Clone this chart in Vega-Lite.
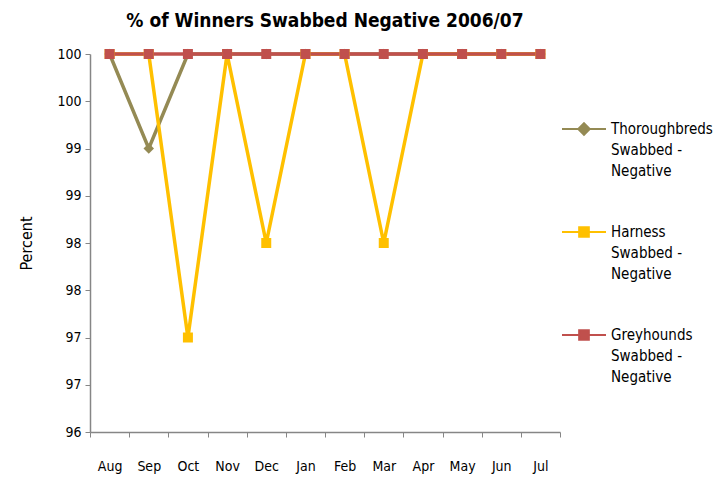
{
  "$schema": "https://vega.github.io/schema/vega-lite/v6.json",
  "autosize": "none",
  "width": 470,
  "height": 378,
  "padding": {"left": 90, "top": 54, "right": 166, "bottom": 45},
  "config": {
    "view": {"stroke": null},
    "font": "DejaVu Sans Condensed",
    "axis": {"domainColor": "#868686", "tickColor": "#868686", "domainWidth": 1.5, "labelColor": "#000", "titleColor": "#000", "labelFont": "DejaVu Sans Condensed", "titleFont": "DejaVu Sans Condensed", "grid": false}
  },
  "title": {"text": "% of Winners Swabbed Negative 2006/07", "font": "DejaVu Sans Condensed", "fontSize": 19, "fontWeight": "bold", "color": "#000", "anchor": "middle", "offset": 16},
  "data": {"values": [
    {"month": "Aug", "series": "Thoroughbreds Swabbed - Negative", "value": 100},
    {"month": "Sep", "series": "Thoroughbreds Swabbed - Negative", "value": 99},
    {"month": "Oct", "series": "Thoroughbreds Swabbed - Negative", "value": 100},
    {"month": "Nov", "series": "Thoroughbreds Swabbed - Negative", "value": 100},
    {"month": "Dec", "series": "Thoroughbreds Swabbed - Negative", "value": 100},
    {"month": "Jan", "series": "Thoroughbreds Swabbed - Negative", "value": 100},
    {"month": "Feb", "series": "Thoroughbreds Swabbed - Negative", "value": 100},
    {"month": "Mar", "series": "Thoroughbreds Swabbed - Negative", "value": 100},
    {"month": "Apr", "series": "Thoroughbreds Swabbed - Negative", "value": 100},
    {"month": "May", "series": "Thoroughbreds Swabbed - Negative", "value": 100},
    {"month": "Jun", "series": "Thoroughbreds Swabbed - Negative", "value": 100},
    {"month": "Jul", "series": "Thoroughbreds Swabbed - Negative", "value": 100},
    {"month": "Aug", "series": "Harness Swabbed - Negative", "value": 100},
    {"month": "Sep", "series": "Harness Swabbed - Negative", "value": 100},
    {"month": "Oct", "series": "Harness Swabbed - Negative", "value": 97},
    {"month": "Nov", "series": "Harness Swabbed - Negative", "value": 100},
    {"month": "Dec", "series": "Harness Swabbed - Negative", "value": 98},
    {"month": "Jan", "series": "Harness Swabbed - Negative", "value": 100},
    {"month": "Feb", "series": "Harness Swabbed - Negative", "value": 100},
    {"month": "Mar", "series": "Harness Swabbed - Negative", "value": 98},
    {"month": "Apr", "series": "Harness Swabbed - Negative", "value": 100},
    {"month": "May", "series": "Harness Swabbed - Negative", "value": 100},
    {"month": "Jun", "series": "Harness Swabbed - Negative", "value": 100},
    {"month": "Jul", "series": "Harness Swabbed - Negative", "value": 100},
    {"month": "Aug", "series": "Greyhounds Swabbed - Negative", "value": 100},
    {"month": "Sep", "series": "Greyhounds Swabbed - Negative", "value": 100},
    {"month": "Oct", "series": "Greyhounds Swabbed - Negative", "value": 100},
    {"month": "Nov", "series": "Greyhounds Swabbed - Negative", "value": 100},
    {"month": "Dec", "series": "Greyhounds Swabbed - Negative", "value": 100},
    {"month": "Jan", "series": "Greyhounds Swabbed - Negative", "value": 100},
    {"month": "Feb", "series": "Greyhounds Swabbed - Negative", "value": 100},
    {"month": "Mar", "series": "Greyhounds Swabbed - Negative", "value": 100},
    {"month": "Apr", "series": "Greyhounds Swabbed - Negative", "value": 100},
    {"month": "May", "series": "Greyhounds Swabbed - Negative", "value": 100},
    {"month": "Jun", "series": "Greyhounds Swabbed - Negative", "value": 100},
    {"month": "Jul", "series": "Greyhounds Swabbed - Negative", "value": 100}
  ]},
  "encoding": {
    "x": {"field": "month", "type": "nominal", "sort": null,
      "scale": {"type": "band", "paddingInner": 0, "paddingOuter": 0},
      "axis": {"title": null, "labelAngle": 0, "tickBand": "extent", "tickSize": 5, "labelFontSize": 14, "labelPadding": 22}},
    "y": {"field": "value", "type": "quantitative",
      "scale": {"domain": [96, 100], "nice": false, "zero": false},
      "axis": {"values": [96, 96.5, 97, 97.5, 98, 98.5, 99, 99.5, 100], "format": ".0f", "tickSize": 5, "labelFontSize": 14, "labelPadding": 4, "title": "Percent", "titleFontSize": 16, "titleFontWeight": "normal", "titlePadding": 22}},
    "color": {"field": "series", "type": "nominal", "sort": null,
      "scale": {"domain": ["Thoroughbreds Swabbed - Negative", "Harness Swabbed - Negative", "Greyhounds Swabbed - Negative"], "range": ["#948A54", "#FFC000", "#C0504D"]},
      "legend": {"title": null, "orient": "none", "legendX": 471, "legendY": 52, "symbolSize": 1936, "symbolStrokeWidth": 2,
        "symbolType": "M-1,0L1,0M-0.22,-0.22L0.22,-0.22L0.22,0.22L-0.22,0.22Z",
        "labelFontSize": 15, "labelFont": "DejaVu Sans Condensed", "labelColor": "#000", "rowPadding": 30, "labelLimit": 200, "labelOffset": 4,
        "labelExpr": "split(replace(replace(datum.label, ' Swabbed', '|Swabbed'), ' Negative', '|Negative'), '|')",
        "encoding": {
          "labels": {"lineHeight": {"value": 21}},
          "symbols": {
          "shape": {"value": {"expr": "datum.value == 'Thoroughbreds Swabbed - Negative' ? 'M-1,0L1,0M0,-0.26L0.26,0L0,0.26L-0.26,0Z' : 'M-1,0L1,0M-0.22,-0.22L0.22,-0.22L0.22,0.22L-0.22,0.22Z'"}},
          "stroke": {"value": {"expr": "scale('color', datum.value)"}},
          "fill": {"value": {"expr": "scale('color', datum.value)"}}
        }}}}
  },
  "layer": [
    {
      "mark": {"type": "line", "strokeWidth": 3.5}
    },
    {
      "transform": [{"filter": "datum.series == 'Thoroughbreds Swabbed - Negative'"}],
      "mark": {"type": "point", "filled": true, "size": 110, "opacity": 1, "shape": "diamond"}
    },
    {
      "transform": [{"filter": "datum.series != 'Thoroughbreds Swabbed - Negative'"}],
      "mark": {"type": "point", "filled": true, "size": 100, "opacity": 1, "shape": "square"}
    }
  ]
}
